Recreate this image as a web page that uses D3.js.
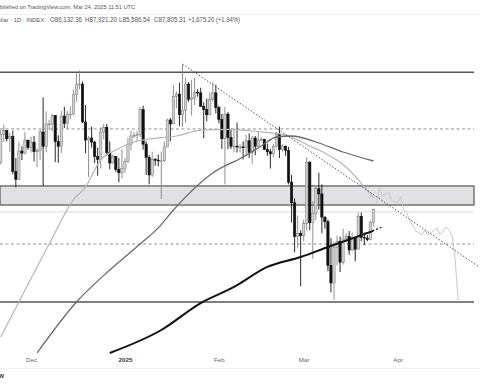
<!DOCTYPE html>
<html><head><meta charset="utf-8">
<script src="https://cdn.jsdelivr.net/npm/d3@7"></script>
<style>html,body{margin:0;padding:0;background:#fff;overflow:hidden}</style>
</head><body>
<svg id="c" width="480" height="384"></svg>
<script>
// ---------- data ----------
const firstDay = "2024-11-21";
const open = [94300,98300,98900,97700,98000,93000,91900,95900,95600,97500,
96400,97200,95800,96000,98700,96600,99900,99900,101200,97300,96600,101100,100000,101400,101400,104400,106100,106100,100200,97500,97800,97200,95100,94700,98700,99400,95700,94200,95100,93300,92800,
93400,94400,96900,98100,98200,98300,102100,96900,95000,92500,94700,94600,94500,94500,96500,100500,99900,104100,104500,101300,102000,106100,103700,103900,104800,104700,102600,102100,101300,103700,104700,
102400,100600,97700,101400,97900,96600,96600,96500,96500,96400,97400,95700,97800,96600,97500,97600,96100,95800,95500,96600,98300,96100,96600,96000,91500,88700,84300,84700,
84400,86000,94300,86100,87300,90600,89900,86800,86200,80700,78600,82900,83700,81100,84000,84300,82600,84100,82700,86900,84200,84100,83900,86132];
const high = [99000,99800,98900,98600,98900,94900,97200,96600,98700,97500,
98000,98100,96300,99000,104000,101800,100500,101400,101200,98200,101900,102500,101900,102600,105200,107800,108300,106500,102800,98100,99500,97400,96400,99400,99900,99900,97300,95400,95200,94900,96100,
94900,97800,98900,98700,98800,102500,102700,97300,95300,95800,94900,95400,95800,97300,100700,100800,105900,104900,106300,109300,107100,106400,106800,107100,105300,105500,103200,103800,104800,106400,106000,
102700,101400,102500,101700,99000,99200,100100,96900,97300,98300,98500,98100,98100,98800,97900,97700,97000,96200,96900,98700,99500,96900,96700,96500,92500,89300,87000,85100,
86500,95000,94400,88900,90900,92800,91200,86900,86500,84100,83600,84400,84300,85300,84700,85000,84800,84100,87400,87400,84800,84500,86300,87921];
const low = [94000,97200,97300,95800,92600,90800,91800,94600,95400,96100,
95700,94400,93600,94600,91000,95700,99000,98800,94300,94200,95600,99300,99200,100600,101200,103300,105300,100000,95600,92200,96400,94200,92400,93400,97600,95200,93300,94100,92900,91500,92000,
92800,94200,96000,97800,97300,97900,96100,92500,91200,92200,93800,93700,89200,94300,96500,97300,99900,102300,99600,99500,100100,103300,101200,102800,104100,102500,97800,100300,101300,103300,101500,
100000,96200,91200,96200,96200,95700,95700,95700,94700,95300,94900,94100,95300,96500,97300,96100,95200,93400,95000,96400,94900,95800,95200,91200,86100,82300,82800,78200,
83700,85100,85100,81500,86400,87800,84700,85300,80000,77500,76600,80700,79900,80800,83600,82000,82500,81200,82700,83700,83200,83700,83800,85587];
const close = [98300,98900,97700,98000,93000,91900,95900,95600,97500,96400,
97200,95800,96000,98700,96600,99900,99900,101200,97300,96600,101100,100000,101400,101400,104400,106100,106100,100200,97500,97800,97200,95100,94700,98700,99400,95700,94200,95100,93300,92800,93400,
94400,96900,98100,98200,98300,102100,96900,95000,92500,94700,94600,94500,94500,96500,100500,99900,104100,104500,101300,102000,106100,103700,103900,104800,104700,102600,102100,101300,103700,104700,102400,
100600,97700,101400,97900,96600,96600,96500,96500,96400,97400,95700,97800,96600,97500,97600,96100,95800,95500,96600,98300,96100,96600,96000,91500,88700,84300,84700,84400,
86000,94300,86100,87300,90600,89900,86800,86200,80700,78600,82900,83700,81100,84000,84300,82600,84100,82700,86900,84200,84100,83900,86100,87805];

const xTickDates = ["2024-12-01","2025-01-01","2025-02-01","2025-03-01","2025-04-01"];
const xTickLabels = ["Dec","2025","Feb","Mar","Apr"];

const sma50 = [["2024-11-21",72450],["2024-11-27",76370],["2024-12-07",83350],["2024-12-15",89080],["2024-12-19",90840],["2024-12-24",94620],["2024-12-29",96060],["2025-01-04",97220],["2025-01-09",97660],["2025-01-18",98100],["2025-01-26",98960],["2025-02-04",99100],["2025-02-15",98700],["2025-02-23",98260],["2025-03-03",96640],["2025-03-08",95620],["2025-03-15",93620],["2025-03-21",90840],["2025-03-24",89350]];
const sma100 = [["2024-12-03",70720],["2024-12-16",76370],["2024-12-27",80150],["2025-01-06",83350],["2025-01-12",85400],["2025-01-17",87740],["2025-01-30",92780],["2025-02-09",95040],["2025-02-15",96640],["2025-02-20",97950],["2025-02-25",98100],["2025-03-06",97070],["2025-03-14",95760],["2025-03-24",94470]];
const sma200 = [["2024-12-27",70720],["2025-01-13",73210],["2025-01-26",76250],["2025-02-06",78120],["2025-02-17",80520],["2025-02-28",81730],["2025-03-09",82980],["2025-03-24",85020]];
const ghost = [["2025-03-25",88600],["2025-03-26",90700],["2025-03-27",89700],["2025-03-29",90100],["2025-03-30",89000],["2025-04-01",88700],["2025-04-02",89500],["2025-04-03",87700],["2025-04-04",87400],["2025-04-05",86400],["2025-04-07",85000],["2025-04-09",84500],["2025-04-10",85100],["2025-04-11",84500],["2025-04-13",85100],["2025-04-14",85400],["2025-04-15",84500],["2025-04-17",85500],["2025-04-18",85100],["2025-04-19",84500],["2025-04-20",81400],["2025-04-21",76400]];
const trendDown = [["2025-01-20",109356],["2025-04-28",80490]];
const trendShort = [["2025-03-19",84370],["2025-03-27",85520]];
const solidLevels = [108000, 76370];
const dashedLevels = [99150, 83350];
const bandLevels = [88400, 90980];
const thinLevels = [87480];

const headerLine1 = "Published on TradingView.com, Mar 24, 2025 11:51 UTC";
const headerSymbol = "Bitcoin / U.S. Dollar · 1D · INDEX";
const headerValues = ["O86,132.36","H87,921.20","L85,586.54","C87,805.31","+1,675.20 (+1.94%)"];
const brand = "TradingView";

// ---------- layout ----------
const parse = d3.utcParse("%Y-%m-%d");
const svg = d3.select("#c");
const font = "Arial, 'Liberation Sans', sans-serif";
const x = d3.scaleUtc().domain([parse("2024-12-01"), parse("2025-04-01")]).range([31, 31 + 121 * 3.03]);
const y = d3.scaleLog().domain([76600, 109356]).range([300, 64]);
const start = parse(firstDay);
const candles = open.map((o, i) => ({date: d3.utcDay.offset(start, i), o, h: high[i], l: low[i], c: close[i]}));
const xr = 474;

svg.append("rect").attr("width", 480).attr("height", 384).attr("fill", "#fff");
svg.append("line").attr("x1", 0).attr("x2", 480).attr("y1", 14.5).attr("y2", 14.5).attr("stroke", "#f0f0f0");
svg.append("line").attr("x1", 0).attr("x2", 480).attr("y1", 368.5).attr("y2", 368.5).attr("stroke", "#f0f0f0");

// header
svg.append("text").attr("x", 135).attr("y", 9).attr("text-anchor", "end")
  .attr("font-family", font).attr("font-size", 5.65).attr("fill", "#555").text(headerLine1);
svg.append("text").attr("x", 44).attr("y", 22.2).attr("text-anchor", "end")
  .attr("font-family", font).attr("font-size", 5.8).attr("fill", "#555").text(headerSymbol);
const hvX = [50, 85, 119, 154, 188];
const hvW = [32, 32, 31, 32, 52];
svg.selectAll("text.hv").data(headerValues).join("text").attr("class", "hv")
  .attr("x", (d, i) => hvX[i]).attr("y", 22.2)
  .attr("textLength", (d, i) => hvW[i]).attr("lengthAdjust", "spacingAndGlyphs")
  .attr("font-family", font).attr("font-size", 6.3).attr("fill", "#555").text(d => d);

// plot
const defs = svg.append("defs");
defs.append("clipPath").attr("id", "pc").append("rect").attr("x", 0).attr("y", 28).attr("width", 480).attr("height", 328);
const g = svg.append("g").attr("clip-path", "url(#pc)");

// band
g.append("rect").attr("x", 0).attr("width", xr)
  .attr("y", y(bandLevels[1])).attr("height", y(bandLevels[0]) - y(bandLevels[1]))
  .attr("fill", "#e1e1e4").attr("stroke", "#555").attr("stroke-width", 1.2);
g.selectAll("line.thin").data(thinLevels).join("line").attr("class", "thin")
  .attr("x1", 0).attr("x2", xr).attr("y1", d => y(d)).attr("y2", d => y(d))
  .attr("stroke", "#cfcfcf").attr("stroke-width", 0.8);
g.selectAll("line.solid").data(solidLevels).join("line").attr("class", "solid")
  .attr("x1", 0).attr("x2", xr).attr("y1", d => y(d)).attr("y2", d => y(d))
  .attr("stroke", "#555").attr("stroke-width", 1.3);
g.selectAll("line.dash").data(dashedLevels).join("line").attr("class", "dash")
  .attr("x1", 0).attr("x2", xr).attr("y1", d => y(d)).attr("y2", d => y(d))
  .attr("stroke", "#777").attr("stroke-width", 0.8).attr("stroke-dasharray", "3,2.5");

const lineGen = d3.line().x(d => x(parse(d[0]))).y(d => y(d[1]));
const smooth = d3.line().x(d => x(parse(d[0]))).y(d => y(d[1])).curve(d3.curveMonotoneX);

// ghost projection
g.append("path").attr("d", lineGen(ghost)).attr("fill", "none").attr("stroke", "#c9c9c9").attr("stroke-width", 1);

// candles
const cg = g.append("g");
cg.selectAll("line.wick").data(candles).join("line").attr("class", "wick")
  .attr("x1", d => x(d.date)).attr("x2", d => x(d.date))
  .attr("y1", d => y(d.h)).attr("y2", d => y(d.l))
  .attr("stroke", d => d.c >= d.o ? "#858585" : "#111").attr("stroke-width", 0.9);
cg.selectAll("rect.body").data(candles).join("rect").attr("class", "body")
  .attr("x", d => x(d.date) - 1.15).attr("width", 2.3)
  .attr("y", d => y(Math.max(d.o, d.c)))
  .attr("height", d => Math.max(0.8, Math.abs(y(d.o) - y(d.c))))
  .attr("fill", d => d.c >= d.o ? "#d2d2d2" : "#111")
  .attr("stroke", d => d.c >= d.o ? "#858585" : "#111").attr("stroke-width", 0.6);

// moving averages
g.append("path").attr("d", smooth(sma50)).attr("fill", "none").attr("stroke", "#b5b5b5").attr("stroke-width", 1.2);
g.append("path").attr("d", smooth(sma100)).attr("fill", "none").attr("stroke", "#6a6a6a").attr("stroke-width", 1.3);
g.append("path").attr("d", smooth(sma200)).attr("fill", "none").attr("stroke", "#111").attr("stroke-width", 2);

// trendlines
g.append("path").attr("d", lineGen(trendDown)).attr("fill", "none").attr("stroke", "#555").attr("stroke-width", 1).attr("stroke-dasharray", "1.5,1.8");
g.append("path").attr("d", lineGen(trendShort)).attr("fill", "none").attr("stroke", "#222").attr("stroke-width", 1.2).attr("stroke-dasharray", "2,1.8");

// x axis
const ax = d3.axisBottom(x).tickValues(xTickDates.map(parse)).tickSize(0).tickPadding(0)
  .tickFormat((d, i) => xTickLabels[i]);
const axg = svg.append("g").attr("transform", "translate(0,357.5)").call(ax);
axg.select(".domain").remove();
axg.selectAll("text").attr("font-family", font).attr("font-size", 6.2)
  .attr("font-weight", (d, i) => xTickLabels[i] === "2025" ? "bold" : null)
  .attr("fill", (d, i) => xTickLabels[i] === "2025" ? "#333" : "#666");

// brand
svg.append("text").attr("x", 4).attr("y", 377.5).attr("text-anchor", "end")
  .attr("font-family", font).attr("font-size", 7).attr("font-weight", "bold").attr("fill", "#333").text(brand);
</script>
</body></html>
